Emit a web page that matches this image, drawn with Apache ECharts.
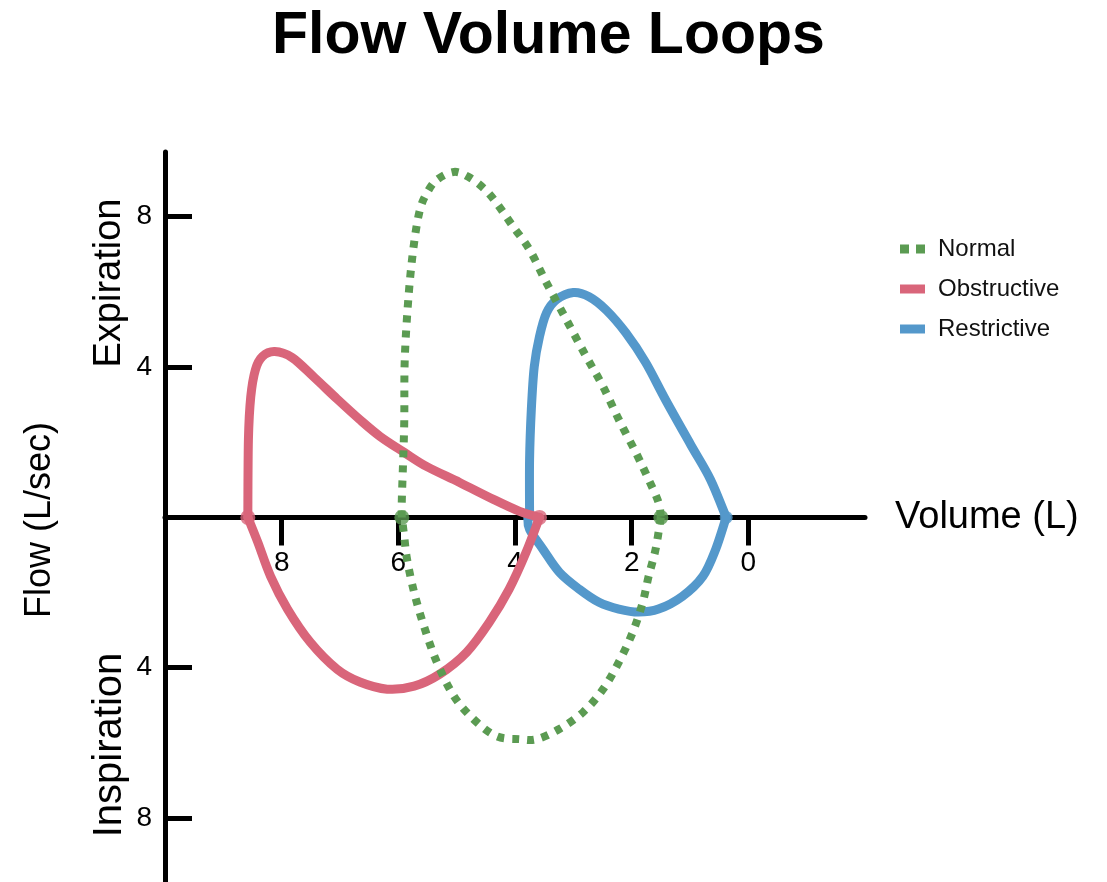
<!DOCTYPE html>
<html>
<head>
<meta charset="utf-8">
<title>Flow Volume Loops</title>
<script src="https://cdn.jsdelivr.net/npm/echarts@6/dist/echarts.min.js"></script>
<style>
  html, body { margin: 0; padding: 0; background: #fff; }
  #chart { width: 1107px; height: 882px; }
</style>
</head>
<body>
<div id="chart"></div>
<script>
// Loop traces as [volume (L), flow (L/sec)] pairs, in drawing order.
// Expiration is positive flow, inspiration negative.
const normalExpiration = [
  [5.94, 0], [5.94, 0.48], [5.90, 2.42], [5.89, 4.20], [5.82, 5.98], [5.73, 7.30],
  [5.63, 8.18], [5.51, 8.63], [5.34, 8.98], [5.05, 9.19], [4.80, 9.06], [4.54, 8.76],
  [4.32, 8.37], [4.03, 7.73], [3.75, 7.12], [3.46, 6.24], [3.12, 5.26], [2.78, 4.28],
  [2.49, 3.48], [2.22, 2.60], [1.93, 1.73], [1.71, 1.01], [1.54, 0.40], [1.50, 0]
];
const normalInspiration = [
  [1.50, 0], [1.59, -0.85], [1.71, -1.57], [1.81, -2.26], [1.98, -3.05], [2.22, -3.85],
  [2.49, -4.57], [2.83, -5.18], [3.24, -5.63], [3.63, -5.90], [3.92, -5.90], [4.32, -5.82],
  [4.71, -5.37], [5.05, -4.75], [5.34, -3.85], [5.56, -2.90], [5.73, -1.99], [5.85, -1.12],
  [5.90, -0.50], [5.94, 0]
];
const obstructiveExpiration = [
  [8.58, 0], [8.57, 2.07], [8.53, 3.21], [8.45, 3.93], [8.33, 4.28], [8.12, 4.41],
  [7.82, 4.25], [7.44, 3.72], [7.05, 3.15], [6.66, 2.60], [6.31, 2.15], [5.90, 1.73],
  [5.51, 1.35], [4.95, 0.93], [4.37, 0.48], [3.92, 0.16], [3.58, 0]
];
const obstructiveInspiration = [
  [3.58, 0], [3.81, -0.93], [4.10, -1.91], [4.44, -2.79], [4.83, -3.59], [5.29, -4.17],
  [5.73, -4.49], [6.19, -4.57], [6.66, -4.38], [7.05, -4.04], [7.51, -3.32], [7.90, -2.44],
  [8.19, -1.57], [8.41, -0.66], [8.58, 0]
];
const restrictiveExpiration = [
  [3.75, 0], [3.75, 1.54], [3.72, 2.87], [3.67, 4.01], [3.58, 4.81], [3.46, 5.44],
  [3.29, 5.79], [3.00, 5.98], [2.73, 5.87], [2.44, 5.52], [2.10, 4.91], [1.76, 4.12],
  [1.42, 3.13], [0.99, 1.94], [0.65, 1.01], [0.38, 0]
];
const restrictiveInspiration = [
  [0.38, 0], [0.56, -0.85], [0.78, -1.57], [1.13, -2.10], [1.54, -2.44], [1.88, -2.52],
  [2.22, -2.44], [2.56, -2.26], [2.90, -1.91], [3.24, -1.46], [3.52, -0.85], [3.75, -0.32],
  [3.78, 0]
];

const volumeTicks = [0, 2, 4, 6, 8];
const flowTicks = [-8, -4, 4, 8];

const GREEN = '#5b9b52';
const RED = '#d9657a';
const BLUE = '#5498cb';
const FONT = '"Liberation Sans", Arial, Helvetica, sans-serif';

// Plot frame (pixels) and flow range; the volume axis sits at flow = 0.
const GRID_TOP = 152;
const GRID_HEIGHT = 730;
const FLOW_MIN = -9.7;
const FLOW_MAX = 9.72;
const zeroOffset = -GRID_HEIGHT * (-FLOW_MIN) / (FLOW_MAX - FLOW_MIN);

const first = a => a[0];
const last = a => a[a.length - 1];

// Catmull-Rom spline through the axis-mapped points, as cubic Bezier path data.
function splinePath(pts) {
  let d = 'M' + pts[0][0] + ' ' + pts[0][1];
  for (let i = 0; i < pts.length - 1; i++) {
    const p0 = pts[Math.max(i - 1, 0)];
    const p1 = pts[i];
    const p2 = pts[i + 1];
    const p3 = pts[Math.min(i + 2, pts.length - 1)];
    const c1x = p1[0] + (p2[0] - p0[0]) / 6;
    const c1y = p1[1] + (p2[1] - p0[1]) / 6;
    const c2x = p2[0] - (p3[0] - p1[0]) / 6;
    const c2y = p2[1] - (p3[1] - p1[1]) / 6;
    d += ' C' + c1x + ' ' + c1y + ' ' + c2x + ' ' + c2y + ' ' + p2[0] + ' ' + p2[1];
  }
  return d;
}

function loop(name, data, color, z, dash) {
  return {
    name: name,
    type: 'custom',
    coordinateSystem: 'cartesian2d',
    data: data,
    silent: true,
    z: z,
    itemStyle: { color: color },
    renderItem: function (params, api) {
      if (params.dataIndex !== 0) return null;
      const pts = data.map(p => api.coord(p));
      return {
        type: 'path',
        shape: { pathData: splinePath(pts) },
        style: {
          fill: 'none',
          stroke: color,
          lineWidth: dash ? 8 : 9,
          lineDash: dash || null,
          lineCap: dash ? 'butt' : 'round',
          lineJoin: 'round'
        }
      };
    }
  };
}

function ends(name, points, color, size, z) {
  return {
    name: name,
    type: 'scatter',
    data: points,
    symbol: 'circle',
    symbolSize: size,
    silent: true,
    z: z,
    itemStyle: { color: color },
    emphasis: { disabled: true }
  };
}

const chart = echarts.init(document.getElementById('chart'), null, { renderer: 'canvas' });

chart.setOption({
  animation: false,
  backgroundColor: '#ffffff',
  title: {
    text: 'Flow Volume Loops',
    left: 267,
    top: 2,
    textStyle: { fontFamily: FONT, fontSize: 59, fontWeight: 'bold', color: '#000' }
  },
  legend: {
    orient: 'vertical',
    left: 895,
    top: 232,
    itemWidth: 25,
    itemHeight: 9,
    itemGap: 16,
    selectedMode: false,
    textStyle: { fontFamily: FONT, fontSize: 24, color: '#111', padding: [0, 0, 0, 8] },
    data: [
      { name: 'Normal', icon: 'path://M0,0h9v9h-9z M16,0h9v9h-9z', itemStyle: { color: GREEN } },
      { name: 'Obstructive', icon: 'rect', itemStyle: { color: RED } },
      { name: 'Restrictive', icon: 'rect', itemStyle: { color: BLUE } }
    ]
  },
  grid: {
    left: 165, right: 242, top: GRID_TOP, height: GRID_HEIGHT,
    containLabel: false, outerBoundsMode: 'none'
  },
  xAxis: {
    type: 'value',
    min: -2,
    max: 10,
    inverse: true,
    position: 'bottom',
    offset: zeroOffset,
    name: 'Volume (L)',
    nameLocation: 'start',
    nameGap: 30,
    nameTextStyle: { fontFamily: FONT, fontSize: 38, color: '#000', verticalAlign: 'middle' },
    axisLine: { onZero: false, lineStyle: { color: '#000', width: 5 } },
    axisTick: { show: true, customValues: volumeTicks, length: 28, lineStyle: { color: '#000', width: 5 } },
    axisLabel: { customValues: volumeTicks, margin: 32, fontFamily: FONT, fontSize: 28, color: '#000' },
    splitLine: { show: false }
  },
  yAxis: {
    type: 'value',
    min: FLOW_MIN,
    max: FLOW_MAX,
    axisLine: { onZero: false, lineStyle: { color: '#000', width: 5 } },
    axisTick: { show: true, inside: true, customValues: flowTicks, length: 27, lineStyle: { color: '#000', width: 5 } },
    axisLabel: {
      customValues: flowTicks,
      margin: 13,
      fontFamily: FONT,
      fontSize: 28,
      color: '#000',
      formatter: v => String(Math.abs(v))
    },
    splitLine: { show: false }
  },
  graphic: [
    {
      type: 'text', x: 40, y: 520, rotation: Math.PI / 2,
      style: { text: 'Flow (L/sec)', font: '36px ' + FONT, fill: '#000', textAlign: 'center', textVerticalAlign: 'middle' }
    },
    {
      type: 'text', x: 110, y: 283, rotation: Math.PI / 2,
      style: { text: 'Expiration', font: '38px ' + FONT, fill: '#000', textAlign: 'center', textVerticalAlign: 'middle' }
    },
    {
      type: 'text', x: 110, y: 745, rotation: Math.PI / 2,
      style: { text: 'Inspiration', font: '40px ' + FONT, fill: '#000', textAlign: 'center', textVerticalAlign: 'middle' }
    }
  ],
  series: [
    loop('Restrictive', restrictiveExpiration, BLUE, 2),
    loop('Restrictive', restrictiveInspiration, BLUE, 2),
    ends('Restrictive', [last(restrictiveExpiration)], BLUE, 13, 3),
    loop('Obstructive', obstructiveExpiration, RED, 4),
    loop('Obstructive', obstructiveInspiration, RED, 4),
    ends('Obstructive', [first(obstructiveExpiration), last(obstructiveExpiration)], RED, 15, 5),
    loop('Normal', normalExpiration, GREEN, 6, [7, 8]),
    loop('Normal', normalInspiration, GREEN, 6, [7, 8]),
    ends('Normal', [first(normalExpiration), last(normalExpiration)], GREEN, 15, 7)
  ]
});
</script>
</body>
</html>
